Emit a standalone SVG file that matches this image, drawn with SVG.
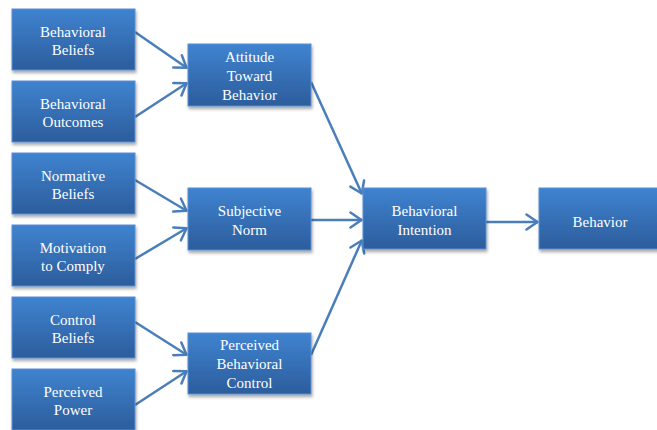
<svg xmlns="http://www.w3.org/2000/svg" width="657" height="430" viewBox="0 0 657 430">
<defs>
<linearGradient id="g" x1="0" y1="0" x2="0" y2="1">
<stop offset="0" stop-color="#3f83d0"/>
<stop offset="1" stop-color="#2c5d9c"/>
</linearGradient>
<filter id="sh" x="-10%" y="-10%" width="125%" height="130%">
<feDropShadow dx="1" dy="2.5" stdDeviation="1.8" flood-color="#000" flood-opacity="0.35"/>
</filter>
<marker id="ah" viewBox="0 0 14 18" refX="13" refY="9" markerWidth="14" markerHeight="18" markerUnits="userSpaceOnUse" orient="auto">
<path d="M1.5,1.5 L12.5,9 L1.5,16.5" fill="none" stroke="#4a7ebb" stroke-width="2.5" stroke-linecap="round" stroke-linejoin="round"/>
</marker>
</defs>
<style>
.box{fill:url(#g);stroke:#5a8fd2;stroke-width:1;filter:url(#sh)}
.t{font-size:15px;fill:#fff;text-anchor:middle}
.c{stroke:#4a7ebb;stroke-width:2.5;fill:none;marker-end:url(#ah)}
</style>
<g id="connectors">
<line class="c" x1="135" y1="32" x2="187" y2="68"/>
<line class="c" x1="135" y1="117" x2="187" y2="83"/>
<line class="c" x1="135" y1="180" x2="187" y2="211"/>
<line class="c" x1="135" y1="259" x2="187" y2="228"/>
<line class="c" x1="135" y1="322" x2="187" y2="355"/>
<line class="c" x1="135" y1="405" x2="187" y2="371"/>
<line class="c" x1="311" y1="82" x2="362" y2="194"/>
<line class="c" x1="311" y1="220" x2="362" y2="220"/>
<line class="c" x1="311" y1="355" x2="362" y2="240"/>
<line class="c" x1="486" y1="222" x2="538" y2="222"/>
</g>
<g font-family="'Liberation Serif', 'Times New Roman', serif">
<g id="behavioral-beliefs"><rect class="box" x="12" y="9" width="123" height="61"/><text class="t" x="73" y="37">Behavioral</text><text class="t" x="73" y="55">Beliefs</text></g>
<g id="behavioral-outcomes"><rect class="box" x="12" y="81" width="123" height="61"/><text class="t" x="73" y="109">Behavioral</text><text class="t" x="73" y="127">Outcomes</text></g>
<g id="normative-beliefs"><rect class="box" x="12" y="153" width="123" height="61"/><text class="t" x="73" y="181">Normative</text><text class="t" x="73" y="199">Beliefs</text></g>
<g id="motivation-to-comply"><rect class="box" x="12" y="225" width="123" height="61"/><text class="t" x="73" y="253">Motivation</text><text class="t" x="73" y="271">to Comply</text></g>
<g id="control-beliefs"><rect class="box" x="12" y="297" width="123" height="61"/><text class="t" x="73" y="325">Control</text><text class="t" x="73" y="343">Beliefs</text></g>
<g id="perceived-power"><rect class="box" x="12" y="369" width="123" height="61"/><text class="t" x="73" y="397">Perceived</text><text class="t" x="73" y="415">Power</text></g>
<g id="attitude"><rect class="box" x="188" y="44" width="123" height="62"/><text class="t" x="249.5" y="62">Attitude</text><text class="t" x="249.5" y="81">Toward</text><text class="t" x="249.5" y="100">Behavior</text></g>
<g id="subjective-norm"><rect class="box" x="188" y="188" width="123" height="62"/><text class="t" x="249.5" y="216">Subjective</text><text class="t" x="249.5" y="235">Norm</text></g>
<g id="perceived-behavioral-control"><rect class="box" x="188" y="333" width="123" height="61"/><text class="t" x="249.5" y="350">Perceived</text><text class="t" x="249.5" y="369">Behavioral</text><text class="t" x="249.5" y="388">Control</text></g>
<g id="behavioral-intention"><rect class="box" x="363" y="188" width="123" height="61"/><text class="t" x="424.5" y="216">Behavioral</text><text class="t" x="424.5" y="235">Intention</text></g>
<g id="behavior"><rect class="box" x="539" y="188" width="125" height="61"/><text class="t" x="600" y="227">Behavior</text></g>
</g>
</svg>
